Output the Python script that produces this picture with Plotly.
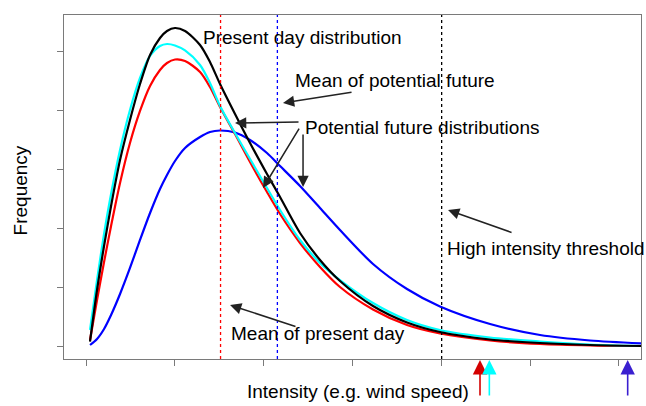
import plotly.graph_objects as go

# ---- data (x in intensity units, y in frequency units) ----
x_grid = [0.045, 0.124, 0.203, 0.282, 0.383, 0.495, 0.608, 0.721, 0.833, 0.912, 1.002, 1.115, 1.284,
          1.396, 1.509, 1.678, 1.847, 2.038, 2.185, 2.41, 2.635, 2.86, 3.232, 3.615, 3.986, 4.55,
          5.113, 5.676, 6.25]

present_day = [0.073, 0.952, 1.701, 2.381, 3.163, 3.844, 4.456, 4.949, 5.238, 5.357, 5.408, 5.357, 5.119,
               4.83, 4.456, 3.946, 3.452, 2.925, 2.534, 1.922, 1.463, 1.105, 0.68, 0.4, 0.238, 0.111,
               0.051, 0.017, 0.0]
future_cyan = [0.272, 1.122, 1.905, 2.585, 3.333, 4.014, 4.558, 4.932, 5.102, 5.136, 5.111, 5.026, 4.779,
               4.473, 4.082, 3.622, 3.18, 2.687, 2.313, 1.803, 1.412, 1.122, 0.731, 0.442, 0.272, 0.145,
               0.077, 0.026, 0.0]
future_red = [0.102, 0.782, 1.429, 2.041, 2.772, 3.452, 3.997, 4.422, 4.694, 4.813, 4.872, 4.847, 4.66,
              4.405, 4.065, 3.605, 3.129, 2.619, 2.245, 1.752, 1.344, 1.003, 0.621, 0.357, 0.213, 0.094,
              0.034, 0.009, 0.0]
future_blue = [0.017, 0.119, 0.289, 0.527, 0.884, 1.327, 1.803, 2.262, 2.67, 2.908, 3.146, 3.367, 3.554,
               3.639, 3.665, 3.631, 3.503, 3.282, 3.061, 2.721, 2.347, 1.973, 1.395, 0.969, 0.672, 0.374,
               0.187, 0.094, 0.046]

mean_present = 1.515
mean_future = 2.155
high_threshold = 4.005

# bottom arrows (intensity positions)
arrow_red_x = 4.437
arrow_cyan_x = 4.542
arrow_blue_x = 6.10

x_ticks = [0, 1, 2, 3, 4, 5, 6]
y_ticks = [0, 1, 2, 3, 4, 5]

FONT = "Liberation Sans, Arial, Helvetica, sans-serif"
FS = 19

fig = go.Figure()

for yv, col in [(future_blue, "#0000ff"), (future_red, "#ff0000"),
                (future_cyan, "#00ffff"), (present_day, "#000000")]:
    fig.add_trace(go.Scatter(x=x_grid, y=yv, mode="lines",
                             line=dict(color=col, width=2.2, shape="spline", smoothing=0.8),
                             showlegend=False, hoverinfo="skip"))

# vertical dotted lines
for xv, col in [(mean_present, "#ff0000"), (mean_future, "#0000ff"), (high_threshold, "#000000")]:
    fig.add_shape(type="line", xref="x", yref="paper", x0=xv, x1=xv, y0=0, y1=1,
                  line=dict(color=col, width=1.3, dash="dot"))

anns = []
labels = [
    ("Present day distribution", 1.318, 5.24),
    ("Mean of potential future", 2.354, 4.52),
    ("Potential future distributions", 2.466, 3.72),
    ("High intensity threshold", 4.065, 1.65),
    ("Mean of present day", 1.633, 0.22),
]
for txt, xv, yv in labels:
    anns.append(dict(x=xv, y=yv, xref="x", yref="y", text=txt, showarrow=False,
                     xanchor="left", yanchor="middle", xshift=-2,
                     font=dict(family=FONT, size=FS, color="#000")))

# arrows inside plot: (head_x, head_y, tail_x, tail_y)
arrows = [
    (2.218, 4.133, 3.007, 4.320),
    (1.678, 3.793, 2.410, 3.810),
    (1.993, 2.687, 2.410, 3.724),
    (2.444, 2.704, 2.444, 3.622),
    (4.077, 2.313, 4.809, 1.922),
    (1.622, 0.697, 2.376, 0.323),
]
for hx, hy, tx, ty in arrows:
    anns.append(dict(x=hx, y=hy, ax=tx, ay=ty, xref="x", yref="y", axref="x", ayref="y",
                     text="", showarrow=True, arrowhead=2, arrowsize=1.5, arrowwidth=1.5,
                     arrowcolor="#222222", standoff=0, startstandoff=0))

# bottom arrows below the axis
for xv, col in [(arrow_red_x, "#d40000"), (arrow_cyan_x, "#00ffff"), (arrow_blue_x, "#3a1fd0")]:
    anns.append(dict(x=xv, y=-0.003, xref="x", yref="paper", ax=0, ay=37,
                     text="", showarrow=True, arrowhead=2, arrowsize=1.8, arrowwidth=1.6,
                     arrowcolor=col, standoff=0))

# axis titles
anns.append(dict(x=-0.0763, y=0.49, xref="paper", yref="paper", text="Frequency",
                 textangle=-90, showarrow=False, xanchor="center", yanchor="middle",
                 font=dict(family=FONT, size=FS, color="#000")))
anns.append(dict(x=0.5095, y=-0.095, xref="paper", yref="paper", text="Intensity (e.g. wind speed)",
                 showarrow=False, xanchor="center", yanchor="middle",
                 font=dict(family=FONT, size=FS, color="#000")))

fig.update_layout(
    width=646, height=406,
    margin=dict(l=64, r=5, t=15, b=47),
    paper_bgcolor="white", plot_bgcolor="white",
    annotations=anns,
    xaxis=dict(range=[-0.248, 6.25], tickvals=x_ticks, showticklabels=False,
               ticks="outside", ticklen=6, tickcolor="#7a7a7a", tickwidth=1.3,
               showgrid=False, zeroline=False, showline=True, linecolor="#7a7a7a",
               linewidth=1.3, mirror=True),
    yaxis=dict(range=[-0.221, 5.629], tickvals=y_ticks, showticklabels=False,
               ticks="outside", ticklen=6, tickcolor="#7a7a7a", tickwidth=1.3,
               showgrid=False, zeroline=False, showline=True, linecolor="#7a7a7a",
               linewidth=1.3, mirror=True),
)

fig.write_html("out.html", config={"displayModeBar": False},
               post_script="document.body.style.margin='0px';")
